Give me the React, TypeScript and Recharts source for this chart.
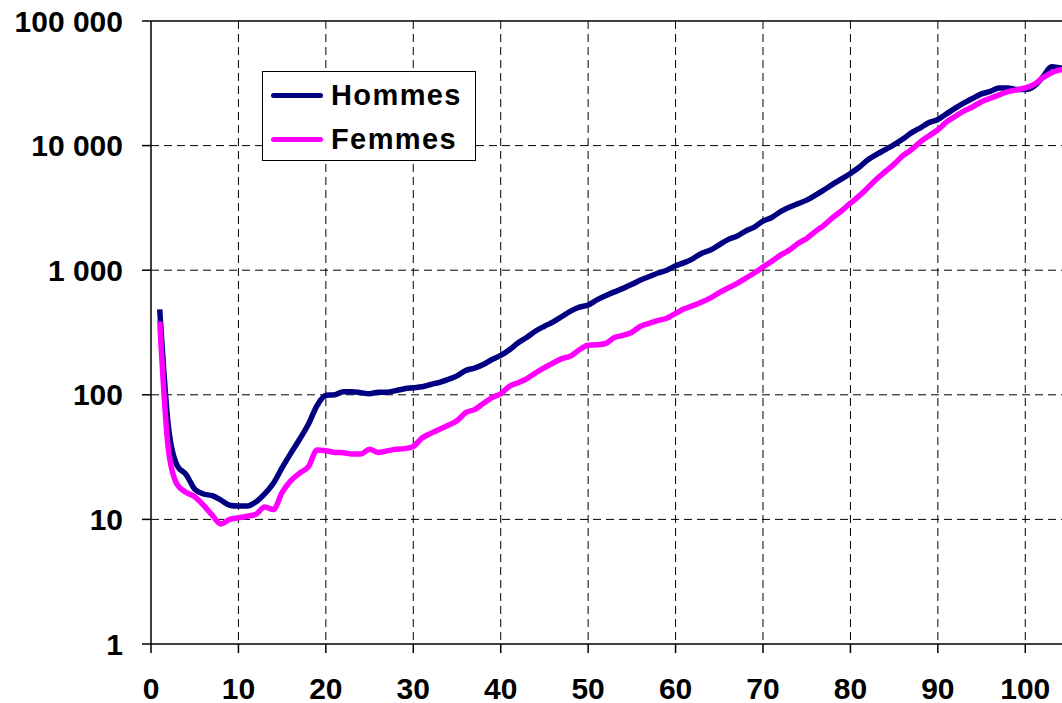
import { LineChart, Line, XAxis, YAxis, CartesianGrid, ReferenceLine } from 'recharts';

const ages = [
  1, 2, 3, 4, 5, 6, 7, 8, 9, 10, 11, 12, 13, 14, 15, 16, 17, 18, 19, 20,
  21, 22, 23, 24, 25, 26, 27, 28, 29, 30, 31, 32, 33, 34, 35, 36, 37, 38, 39, 40,
  41, 42, 43, 44, 45, 46, 47, 48, 49, 50, 51, 52, 53, 54, 55, 56, 57, 58, 59, 60,
  61, 62, 63, 64, 65, 66, 67, 68, 69, 70, 71, 72, 73, 74, 75, 76, 77, 78, 79, 80,
  81, 82, 83, 84, 85, 86, 87, 88, 89, 90, 91, 92, 93, 94, 95, 96, 97, 98, 99, 100,
  101, 102, 103, 104, 105,
];

const hommes = [
  485, 55, 27, 23, 17.5, 16, 15.5, 14.3, 13, 12.8, 12.8, 13.8, 16, 19.5, 26, 34, 44, 58, 82, 99,
  100, 106, 106, 104, 102, 105, 105, 108, 112, 114, 116, 121, 126, 133, 142, 157, 164, 175, 192, 207,
  230, 262, 290, 325, 355, 385, 425, 470, 505, 525, 578, 625, 670, 715, 770, 835, 890, 950, 1000, 1085,
  1150, 1240, 1370, 1450, 1600, 1760, 1870, 2060, 2220, 2480, 2650, 2950, 3200, 3420, 3650, 4000, 4420, 4900, 5400, 5980,
  6700, 7700, 8500, 9300, 10200, 11300, 12700, 13900, 15300, 16200, 18000, 20000, 22000, 24000, 26000, 27200, 29000, 29000, 28200, 28200,
  30000, 35500, 43000, 42000, 41000,
];

const femmes = [
  386, 36, 19, 16.5, 15.2, 13, 10.8, 9.2, 10, 10.3, 10.6, 11, 12.6, 12, 16.5, 20.5, 23.5, 26.5, 36, 35.5,
  34.5, 34.3, 33.5, 33.5, 36.5, 34.5, 35.5, 36.5, 37, 38.5, 45, 49, 53, 57, 62, 72, 76, 85, 95, 102,
  117, 125, 135, 150, 165, 180, 195, 205, 230, 250, 252, 258, 288, 300, 318, 355, 375, 395, 412, 450,
  490, 520, 555, 600, 660, 720, 780, 860, 950, 1060, 1180, 1320, 1450, 1640, 1800, 2050, 2300, 2650, 3000, 3450,
  3950, 4600, 5400, 6200, 7100, 8300, 9300, 10700, 12000, 13400, 15500, 17200, 19000, 20500, 22500, 24000, 25500, 27100, 28000, 29000,
  31000, 35000, 38500, 40500, 41200,
];

const xTicks = [0, 10, 20, 30, 40, 50, 60, 70, 80, 90, 100];
const yTicks = [1, 10, 100, 1000, 10000, 100000];

const seriesNames = ['Hommes', 'Femmes'];
const seriesColors = ['#000080', '#ff00ff'];

const data = ages.map((age, i) => ({ age, hommes: hommes[i], femmes: femmes[i] }));

const FONT = '"Liberation Sans", Arial, sans-serif';

const formatThousands = (v: number) => String(v).replace(/\B(?=(\d{3})+(?!\d))/g, ' ');

function LegendBox() {
  return (
    <div
      style={{
        position: 'absolute',
        left: 262,
        top: 71,
        width: 214,
        height: 90,
        border: '1.5px solid #000',
        background: '#fff',
        boxSizing: 'border-box',
        fontFamily: FONT,
        fontWeight: 'bold',
        fontSize: 29,
        letterSpacing: 1.4,
        color: '#000',
      }}
    >
      {seriesNames.map((name, i) => (
        <div
          key={name}
          style={{ display: 'flex', alignItems: 'center', height: 44, paddingLeft: 8, marginTop: i === 0 ? 1 : 0 }}
        >
          <span
            style={{
              display: 'inline-block',
              width: 52,
              height: 5,
              borderRadius: 3,
              background: seriesColors[i],
              marginRight: 8,
            }}
          />
          <span>{name}</span>
        </div>
      ))}
    </div>
  );
}

export default function App() {
  return (
    <div style={{ position: 'absolute', left: 0, top: 0, width: 1062, height: 703, background: '#fff' }}>
      <LineChart width={1062} height={703} data={data} margin={{ top: 21, right: 0, bottom: 0, left: 0 }}>
        <CartesianGrid
          stroke="#000"
          strokeDasharray="8 5"
          horizontalValues={[10, 100, 1000, 10000]}
          verticalValues={[10, 20, 30, 40, 50, 60, 70, 80, 90, 100]}
        />
        <XAxis
          dataKey="age"
          type="number"
          domain={[0, 104.2]}
          allowDataOverflow
          ticks={xTicks}
          interval={0}
          height={59}
          tickSize={9}
          tickMargin={25}
          axisLine={{ stroke: '#000', strokeWidth: 1.5 }}
          tickLine={{ stroke: '#000', strokeWidth: 1.5 }}
          tick={{ fontSize: 30, fontWeight: 'bold', fill: '#000', fontFamily: FONT }}
        />
        <YAxis
          scale="log"
          domain={[1, 100000]}
          allowDataOverflow
          ticks={yTicks}
          interval={0}
          width={151}
          tickSize={9}
          tickMargin={19}
          tickFormatter={formatThousands}
          axisLine={{ stroke: '#000', strokeWidth: 1.5 }}
          tickLine={{ stroke: '#000', strokeWidth: 1.5 }}
          tick={{ fontSize: 30, fontWeight: 'bold', fill: '#000', fontFamily: FONT }}
        />
        <ReferenceLine y={100000} stroke="#000" strokeWidth={1.5} />
        <Line
          type="monotone"
          dataKey="hommes"
          name="Hommes"
          stroke={seriesColors[0]}
          strokeWidth={5.5}
          strokeLinejoin="round"
          dot={false}
          isAnimationActive={false}
        />
        <Line
          type="monotone"
          dataKey="femmes"
          name="Femmes"
          stroke={seriesColors[1]}
          strokeWidth={5.5}
          strokeLinejoin="round"
          dot={false}
          isAnimationActive={false}
        />
      </LineChart>
      <LegendBox />
    </div>
  );
}
